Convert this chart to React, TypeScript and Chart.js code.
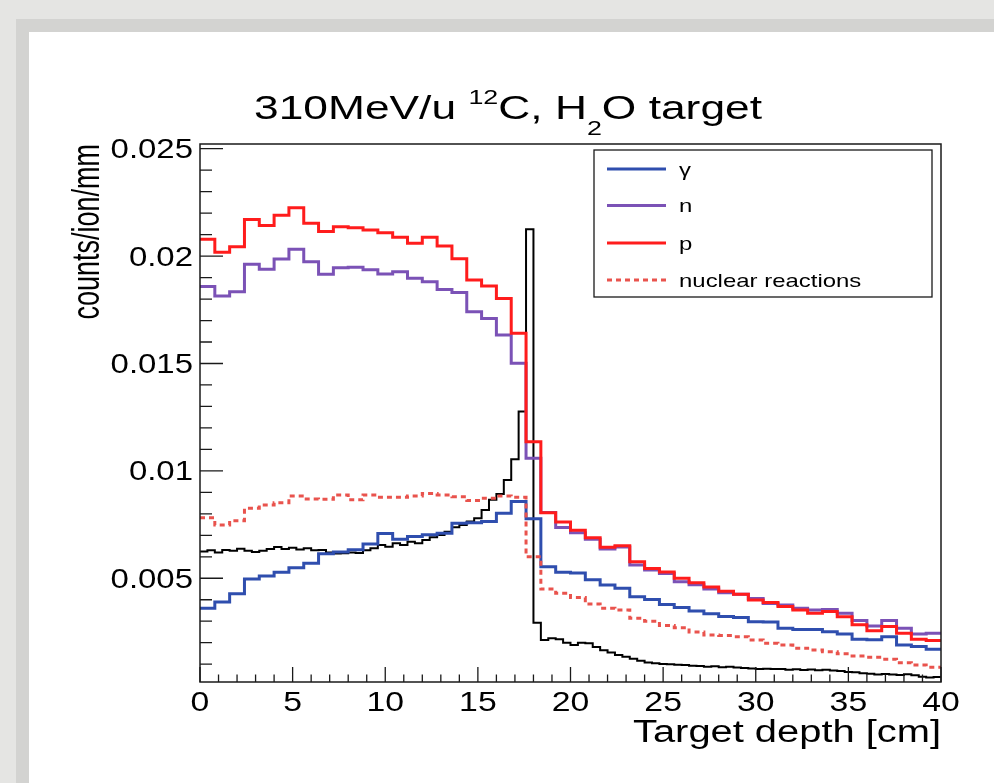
import { useEffect, useRef } from 'react';
import { Chart, registerables } from 'chart.js';

Chart.register(...registerables);

// ---------- data ----------
const COARSE_BIN_CM = 0.8; // γ, n, p, nuclear reactions: 50 bins over 0–40 cm
const FINE_BIN_CM = 0.4; // black curve: 100 bins over 0–40 cm
const X_MIN = 0;
const X_MAX = 40;
const Y_MIN = 0.00017;
const Y_MAX = 0.02522;

const gammaCounts = [
  0.0036, 0.00389, 0.00428, 0.00496, 0.0051, 0.00528, 0.00549, 0.0057, 0.00614, 0.00622,
  0.00633, 0.0066, 0.00708, 0.00682, 0.00694, 0.00703, 0.0071, 0.00756, 0.00759, 0.00764,
  0.00803, 0.00857, 0.00777, 0.00554, 0.00528, 0.00524, 0.00493, 0.00469, 0.00453, 0.00414,
  0.00401, 0.00378, 0.00364, 0.00348, 0.00335, 0.00322, 0.00317, 0.00298, 0.00296, 0.00267,
  0.00262, 0.00262, 0.00251, 0.0024, 0.00216, 0.00214, 0.00228, 0.00189, 0.00182, 0.00169,
];

const neutronCounts = [
  0.01858, 0.01814, 0.01834, 0.01962, 0.01939, 0.01987, 0.02032, 0.01974, 0.01915, 0.01946,
  0.01948, 0.01936, 0.01917, 0.01927, 0.01897, 0.01881, 0.01845, 0.0183, 0.01741, 0.0171,
  0.01633, 0.01501, 0.01059, 0.00806, 0.00736, 0.00712, 0.00682, 0.00636, 0.00645, 0.00562,
  0.00538, 0.00522, 0.00484, 0.0047, 0.0045, 0.00432, 0.00425, 0.00406, 0.00383, 0.00376,
  0.0036, 0.00352, 0.00355, 0.00337, 0.00303, 0.00278, 0.00303, 0.00267, 0.00241, 0.00244,
];

const protonCounts = [
  0.02078, 0.02018, 0.02044, 0.02171, 0.02143, 0.0219, 0.02225, 0.02153, 0.02115, 0.02137,
  0.02132, 0.02121, 0.02109, 0.02088, 0.0206, 0.02088, 0.02047, 0.01988, 0.01889, 0.01861,
  0.01803, 0.01641, 0.01136, 0.00805, 0.00762, 0.00724, 0.00689, 0.00644, 0.00651, 0.00577,
  0.00545, 0.00529, 0.005, 0.00479, 0.00459, 0.0044, 0.00426, 0.00399, 0.00387, 0.00368,
  0.00352, 0.00337, 0.00345, 0.00321, 0.00283, 0.00256, 0.00275, 0.00244, 0.00216, 0.0021,
];

const nuclearReactionCounts = [
  0.00782, 0.00748, 0.00768, 0.00826, 0.00841, 0.00852, 0.00883, 0.00869, 0.00868, 0.00888,
  0.00865, 0.00888, 0.00877, 0.00877, 0.00883, 0.00895, 0.00888, 0.0088, 0.00862, 0.00872,
  0.00883, 0.00877, 0.006, 0.0045, 0.0043, 0.0041, 0.0038, 0.0036, 0.00352, 0.00314,
  0.003, 0.0028, 0.0027, 0.0025, 0.00236, 0.00233, 0.00228, 0.00213, 0.00197, 0.00189,
  0.00174, 0.00166, 0.00158, 0.00148, 0.00138, 0.00132, 0.00123, 0.00107, 0.00096, 0.00086,
];

const doseCounts = [
  0.00625, 0.0063, 0.0062, 0.00632, 0.00628, 0.00637, 0.00628, 0.00622, 0.00628, 0.00636,
  0.00645, 0.00636, 0.00642, 0.00634, 0.0064, 0.0063, 0.00632, 0.0062, 0.00615, 0.00617,
  0.0062, 0.00618, 0.0063, 0.0064, 0.00655, 0.00647, 0.00663, 0.00655, 0.0067, 0.00663,
  0.00678, 0.00691, 0.00702, 0.00717, 0.00737, 0.00748, 0.00764, 0.00779, 0.00818, 0.00865,
  0.00892, 0.00958, 0.01054, 0.01276, 0.02125, 0.00293, 0.00213, 0.00221, 0.00216, 0.002,
  0.00189, 0.002, 0.00197, 0.0018, 0.00165, 0.00154, 0.00143, 0.00135, 0.00125, 0.00116,
  0.00108, 0.00104, 0.00101, 0.001, 0.00097, 0.00096, 0.00093, 0.00092, 0.00088, 0.0009,
  0.00086, 0.00088, 0.00084, 0.00082, 0.0008, 0.00078, 0.00079, 0.00077, 0.00078, 0.00074,
  0.00076, 0.00073, 0.00075, 0.00072, 0.00074, 0.0007, 0.00068, 0.00064, 0.00062, 0.00058,
  0.00055, 0.00052, 0.00054, 0.00052, 0.0005, 0.00053, 0.00048, 0.00042, 0.00038, 0.0004,
];

const xMajorTicks = [0, 5, 10, 15, 20, 25, 30, 35, 40];
const xTickLabels = ['0', '5', '10', '15', '20', '25', '30', '35', '40'];
const X_MINOR_STEP = 1;
const yMajorTicks = [0.005, 0.01, 0.015, 0.02, 0.025];
const yTickLabels = ['0.005', '0.01', '0.015', '0.02', '0.025'];
const Y_MINOR_STEP = 0.001;

const titleParts = [
  { text: '310MeV/u ', kind: 'normal' },
  { text: '12', kind: 'sup' },
  { text: 'C, H', kind: 'normal' },
  { text: '2', kind: 'sub' },
  { text: 'O target', kind: 'normal' },
];
const xAxisTitle = 'Target depth [cm]';
const yAxisTitle = 'counts/ion/mm';

const seriesLabels = ['γ', 'n', 'p', 'nuclear reactions'];

// ---------- helpers ----------
const FONT = '"Liberation Sans", Arial, Helvetica, sans-serif';

function histPoints(values: number[], binWidth: number) {
  const pts = values.map((v, i) => ({ x: i * binWidth, y: v }));
  pts.push({ x: values.length * binWidth, y: values[values.length - 1] });
  return pts;
}

function drawStretched(
  ctx: CanvasRenderingContext2D,
  text: string,
  x: number,
  y: number,
  size: number,
  sx: number,
  align: 'left' | 'center' | 'right',
  baseline: CanvasTextBaseline = 'alphabetic',
) {
  ctx.save();
  ctx.font = `${size}px ${FONT}`;
  ctx.textBaseline = baseline;
  ctx.textAlign = 'left';
  const w = ctx.measureText(text).width * sx;
  const x0 = align === 'left' ? x : align === 'center' ? x - w / 2 : x - w;
  ctx.translate(x0, y);
  ctx.scale(sx, 1);
  ctx.fillText(text, 0, 0);
  ctx.restore();
}

const rootDecorPlugin = {
  id: 'rootDecor',
  afterDatasetsDraw(chart: any) {
    const { ctx, chartArea: a } = chart;
    const xs = chart.scales.x;
    const ys = chart.scales.y;
    ctx.save();
    ctx.fillStyle = '#000';

    // frame
    ctx.strokeStyle = '#1a1a1a';
    ctx.lineWidth = 1.5;
    ctx.strokeRect(a.left, a.top, a.right - a.left, a.bottom - a.top);

    // ticks (inward, ROOT style)
    ctx.lineWidth = 1.3;
    ctx.beginPath();
    for (let v = X_MIN; v <= X_MAX + 1e-9; v += X_MINOR_STEP) {
      const px = xs.getPixelForValue(v);
      const major = xMajorTicks.some((m) => Math.abs(m - v) < 1e-6);
      ctx.moveTo(px, a.bottom);
      ctx.lineTo(px, a.bottom - (major ? 15 : 7.5));
    }
    for (let i = 1; i * Y_MINOR_STEP <= Y_MAX + 1e-9; i++) {
      const v = i * Y_MINOR_STEP;
      const py = ys.getPixelForValue(v);
      const major = yMajorTicks.some((m) => Math.abs(m - v) < 1e-9);
      ctx.moveTo(a.left, py);
      ctx.lineTo(a.left + (major ? 23 : 12), py);
    }
    ctx.stroke();

    // tick labels
    xMajorTicks.forEach((v, i) => {
      drawStretched(ctx, xTickLabels[i], xs.getPixelForValue(v), 711, 27, 1.25, 'center');
    });
    yMajorTicks.forEach((v, i) => {
      drawStretched(ctx, yTickLabels[i], 193, ys.getPixelForValue(v) + 2, 27, 1.22, 'right', 'middle');
    });

    // axis titles
    ctx.save();
    ctx.font = `31px ${FONT}`;
    const xtW = ctx.measureText(xAxisTitle).width;
    ctx.restore();
    drawStretched(ctx, xAxisTitle, 941, 742, 31, 308 / xtW, 'right');

    ctx.save();
    ctx.translate(99, 144);
    ctx.rotate(-Math.PI / 2);
    ctx.scale(1, 1.42);
    ctx.font = `27px ${FONT}`;
    ctx.textAlign = 'right';
    ctx.textBaseline = 'alphabetic';
    ctx.fillText(yAxisTitle, 0, 0);
    ctx.restore();

    // title with super/subscripts
    const sizes: Record<string, number> = { normal: 33, sup: 20, sub: 20 };
    const dys: Record<string, number> = { normal: 0, sup: -15, sub: 16 };
    let natural = 0;
    const widths = titleParts.map((p) => {
      ctx.save();
      ctx.font = `${sizes[p.kind]}px ${FONT}`;
      const w = ctx.measureText(p.text).width;
      ctx.restore();
      natural += w;
      return w;
    });
    const tsx = 508 / natural;
    let tx = 254;
    titleParts.forEach((p, i) => {
      drawStretched(ctx, p.text, tx, 119 + dys[p.kind], sizes[p.kind], tsx, 'left');
      tx += widths[i] * tsx;
    });

    // legend
    const lx0 = 594, ly0 = 150, lx1 = 932, ly1 = 297;
    ctx.fillStyle = '#fff';
    ctx.fillRect(lx0, ly0, lx1 - lx0, ly1 - ly0);
    ctx.strokeStyle = '#1a1a1a';
    ctx.lineWidth = 1.3;
    ctx.strokeRect(lx0, ly0, lx1 - lx0, ly1 - ly0);
    const entries = chart.data.datasets.filter((d: any) => d.inLegend);
    entries.sort((p: any, q: any) => p.legendIndex - q.legendIndex);
    const rowY = [169, 205.5, 243, 280];
    entries.forEach((d: any, i: number) => {
      const yy = rowY[i];
      ctx.save();
      ctx.strokeStyle = d.borderColor;
      ctx.lineWidth = d.borderWidth;
      ctx.setLineDash(d.borderDash || []);
      ctx.beginPath();
      ctx.moveTo(607, yy);
      ctx.lineTo(666, yy);
      ctx.stroke();
      ctx.restore();
      ctx.fillStyle = '#000';
      drawStretched(ctx, d.label, 679, yy + 6.5, 19, 1.26, 'left');
    });

    ctx.restore();
  },
};

export default function App() {
  const canvasRef = useRef<HTMLCanvasElement | null>(null);

  useEffect(() => {
    const canvas = canvasRef.current;
    if (!canvas) return;
    const common = {
      pointRadius: 0,
      pointHoverRadius: 0,
      stepped: true,
      fill: false,
      borderJoinStyle: 'miter',
      borderCapStyle: 'butt',
    };
    const chart = new Chart(canvas, {
      type: 'line',
      data: {
        datasets: [
          {
            ...common,
            label: seriesLabels[3],
            data: histPoints(nuclearReactionCounts, COARSE_BIN_CM),
            borderColor: '#e9534d',
            borderWidth: 3,
            borderDash: [5, 4],
            order: 1,
            inLegend: true,
            legendIndex: 3,
          },
          {
            ...common,
            label: seriesLabels[2],
            data: histPoints(protonCounts, COARSE_BIN_CM),
            borderColor: '#ff1c1c',
            borderWidth: 3,
            order: 2,
            inLegend: true,
            legendIndex: 2,
          },
          {
            ...common,
            label: seriesLabels[1],
            data: histPoints(neutronCounts, COARSE_BIN_CM),
            borderColor: '#7b52b6',
            borderWidth: 3,
            order: 3,
            inLegend: true,
            legendIndex: 1,
          },
          {
            ...common,
            label: seriesLabels[0],
            data: histPoints(gammaCounts, COARSE_BIN_CM),
            borderColor: '#2f4eae',
            borderWidth: 3,
            order: 4,
            inLegend: true,
            legendIndex: 0,
          },
          {
            ...common,
            label: '',
            data: histPoints(doseCounts, FINE_BIN_CM),
            borderColor: '#000000',
            borderWidth: 2,
            order: 5,
            inLegend: false,
          },
        ] as any,
      },
      options: {
        animation: false,
        responsive: false,
        maintainAspectRatio: false,
        devicePixelRatio: 1,
        events: [],
        layout: { padding: { left: 200, right: 53, top: 144, bottom: 101 } },
        plugins: {
          legend: { display: false },
          tooltip: { enabled: false },
          title: { display: false },
        },
        scales: {
          x: {
            type: 'linear',
            min: X_MIN,
            max: X_MAX,
            grid: { display: false },
            border: { display: false },
            ticks: { display: false },
            afterFit: (s: any) => {
              s.height = 0;
            },
          },
          y: {
            type: 'linear',
            min: Y_MIN,
            max: Y_MAX,
            grid: { display: false },
            border: { display: false },
            ticks: { display: false },
            afterFit: (s: any) => {
              s.width = 0;
            },
          },
        },
      } as any,
      plugins: [rootDecorPlugin],
    });
    return () => chart.destroy();
  }, []);

  return (
    <div
      style={{
        position: 'fixed',
        left: 0,
        top: 0,
        width: 994,
        height: 783,
        background: '#e5e5e3',
        overflow: 'hidden',
      }}
    >
      <div style={{ position: 'absolute', left: 16, top: 19, right: 0, bottom: 0, background: '#d3d3d1' }} />
      <div style={{ position: 'absolute', left: 29, top: 32, right: 0, bottom: 0, background: '#ffffff' }} />
      <canvas
        ref={canvasRef}
        width={994}
        height={783}
        style={{ position: 'absolute', left: 0, top: 0, width: 994, height: 783 }}
      />
    </div>
  );
}
